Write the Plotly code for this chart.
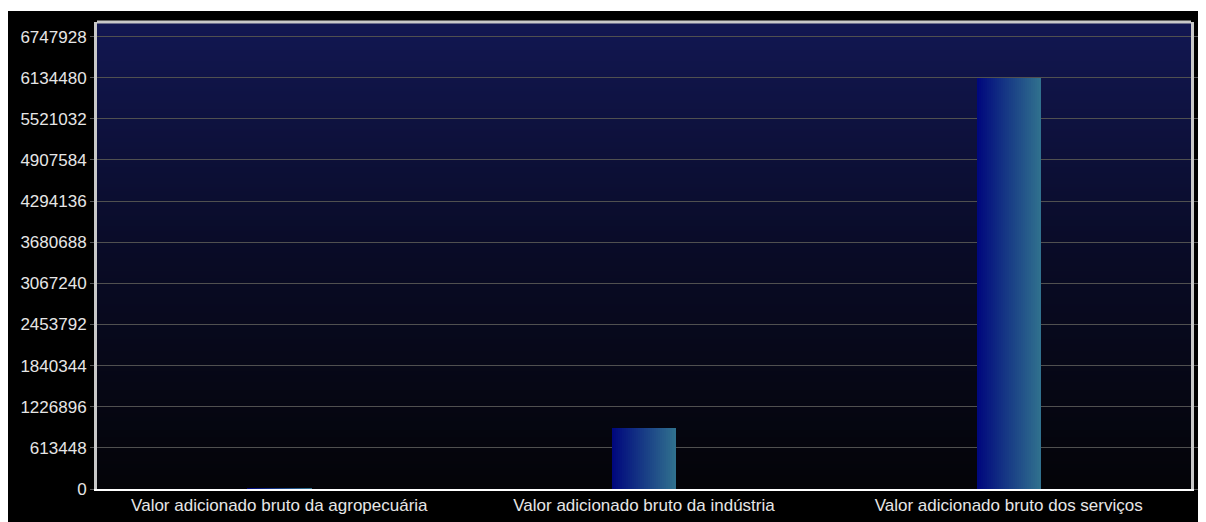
import base64, struct, zlib
import plotly.graph_objects as go

# ---- data ----
categories = [
    "Valor adicionado bruto da agropecuária",
    "Valor adicionado bruto da indústria",
    "Valor adicionado bruto dos serviços",
]
values = [14000, 910000, 6128000]
tick_step = 613448
tick_vals = [tick_step * i for i in range(12)]
tick_text = [str(v) for v in tick_vals]

# ---- styling helpers ----
def lerp(c1, c2, t):
    return tuple(round(a + (b - a) * t) for a, b in zip(c1, c2))

def png_vertical_gradient(top, mid, bottom, h=256):
    rows = b""
    for y in range(h):
        t = y / (h - 1)
        if t < 0.5:
            c = lerp(top, mid, t / 0.5)
        else:
            c = lerp(mid, bottom, (t - 0.5) / 0.5)
        rows += b"\x00" + bytes(c)
    def chunk(tag, data):
        return struct.pack(">I", len(data)) + tag + data + struct.pack(">I", zlib.crc32(tag + data) & 0xffffffff)
    ihdr = struct.pack(">IIBBBBB", 1, h, 8, 2, 0, 0, 0)
    png = b"\x89PNG\r\n\x1a\n" + chunk(b"IHDR", ihdr) + chunk(b"IDAT", zlib.compress(rows)) + chunk(b"IEND", b"")
    return "data:image/png;base64," + base64.b64encode(png).decode()

bg_src = png_vertical_gradient((18, 23, 82), (9, 11, 38), (4, 4, 8))

bar_left = (0, 8, 125)
bar_right = (48, 112, 142)
bar_width = 0.175
n_slices = 32

W, H = 1206, 522
ML, MR, MT, MB = 84, 23, 14, 41
plot_h = H - MT - MB

fig = go.Figure()
for i in range(n_slices):
    t = i / (n_slices - 1)
    c = lerp(bar_left, bar_right, t)
    fig.add_trace(go.Bar(
        x=categories, y=values,
        width=[bar_width / n_slices * 1.15] * len(categories),
        offset=[-bar_width / 2 + i * bar_width / n_slices] * len(categories),
        marker=dict(color=f"rgb{c}", line=dict(width=0)),
        showlegend=False, hoverinfo="skip",
    ))

fig.update_layout(
    width=W, height=H,
    margin=dict(l=ML, r=MR, t=MT, b=MB),
    paper_bgcolor="#000000",
    plot_bgcolor="#05050a",
    barmode="overlay",
    bargap=0,
    font=dict(family="Liberation Sans, Arial, sans-serif", size=17, color="#e6e6e6"),
    images=[dict(source=bg_src, xref="x domain", yref="y domain", x=0, y=1,
                 sizex=1, sizey=1, sizing="stretch", layer="below",
                 xanchor="left", yanchor="top")],
    shapes=[
        # thin white strip at very top of the figure
        dict(type="rect", xref="paper", yref="paper", x0=-0.2, x1=1.2,
             y0=1 + (MT - 3) / plot_h, y1=1.2, fillcolor="white", line=dict(width=0), layer="above"),
        # top frame line
        dict(type="line", xref="paper", yref="paper", x0=0, x1=1, y0=1, y1=1,
             line=dict(color="#c8c8c8", width=3)),
    ],
)

fig.update_xaxes(
    showgrid=False, showline=True, linecolor="#ffffff", linewidth=2,
    ticks="", tickfont=dict(size=17, color="#e6e6e6"), fixedrange=True,
)
fig.update_yaxes(
    range=[0, 6965000], tickvals=tick_vals, ticktext=tick_text,
    showgrid=True, gridcolor="#505050", gridwidth=1,
    showline=True, linecolor="#c8c8c8", linewidth=3, mirror="ticks",
    ticks="outside", ticklen=4, tickcolor="#555555",
    zeroline=False, tickfont=dict(size=17, color="#e6e6e6"), fixedrange=True,
)

fig.write_html("out.html")
